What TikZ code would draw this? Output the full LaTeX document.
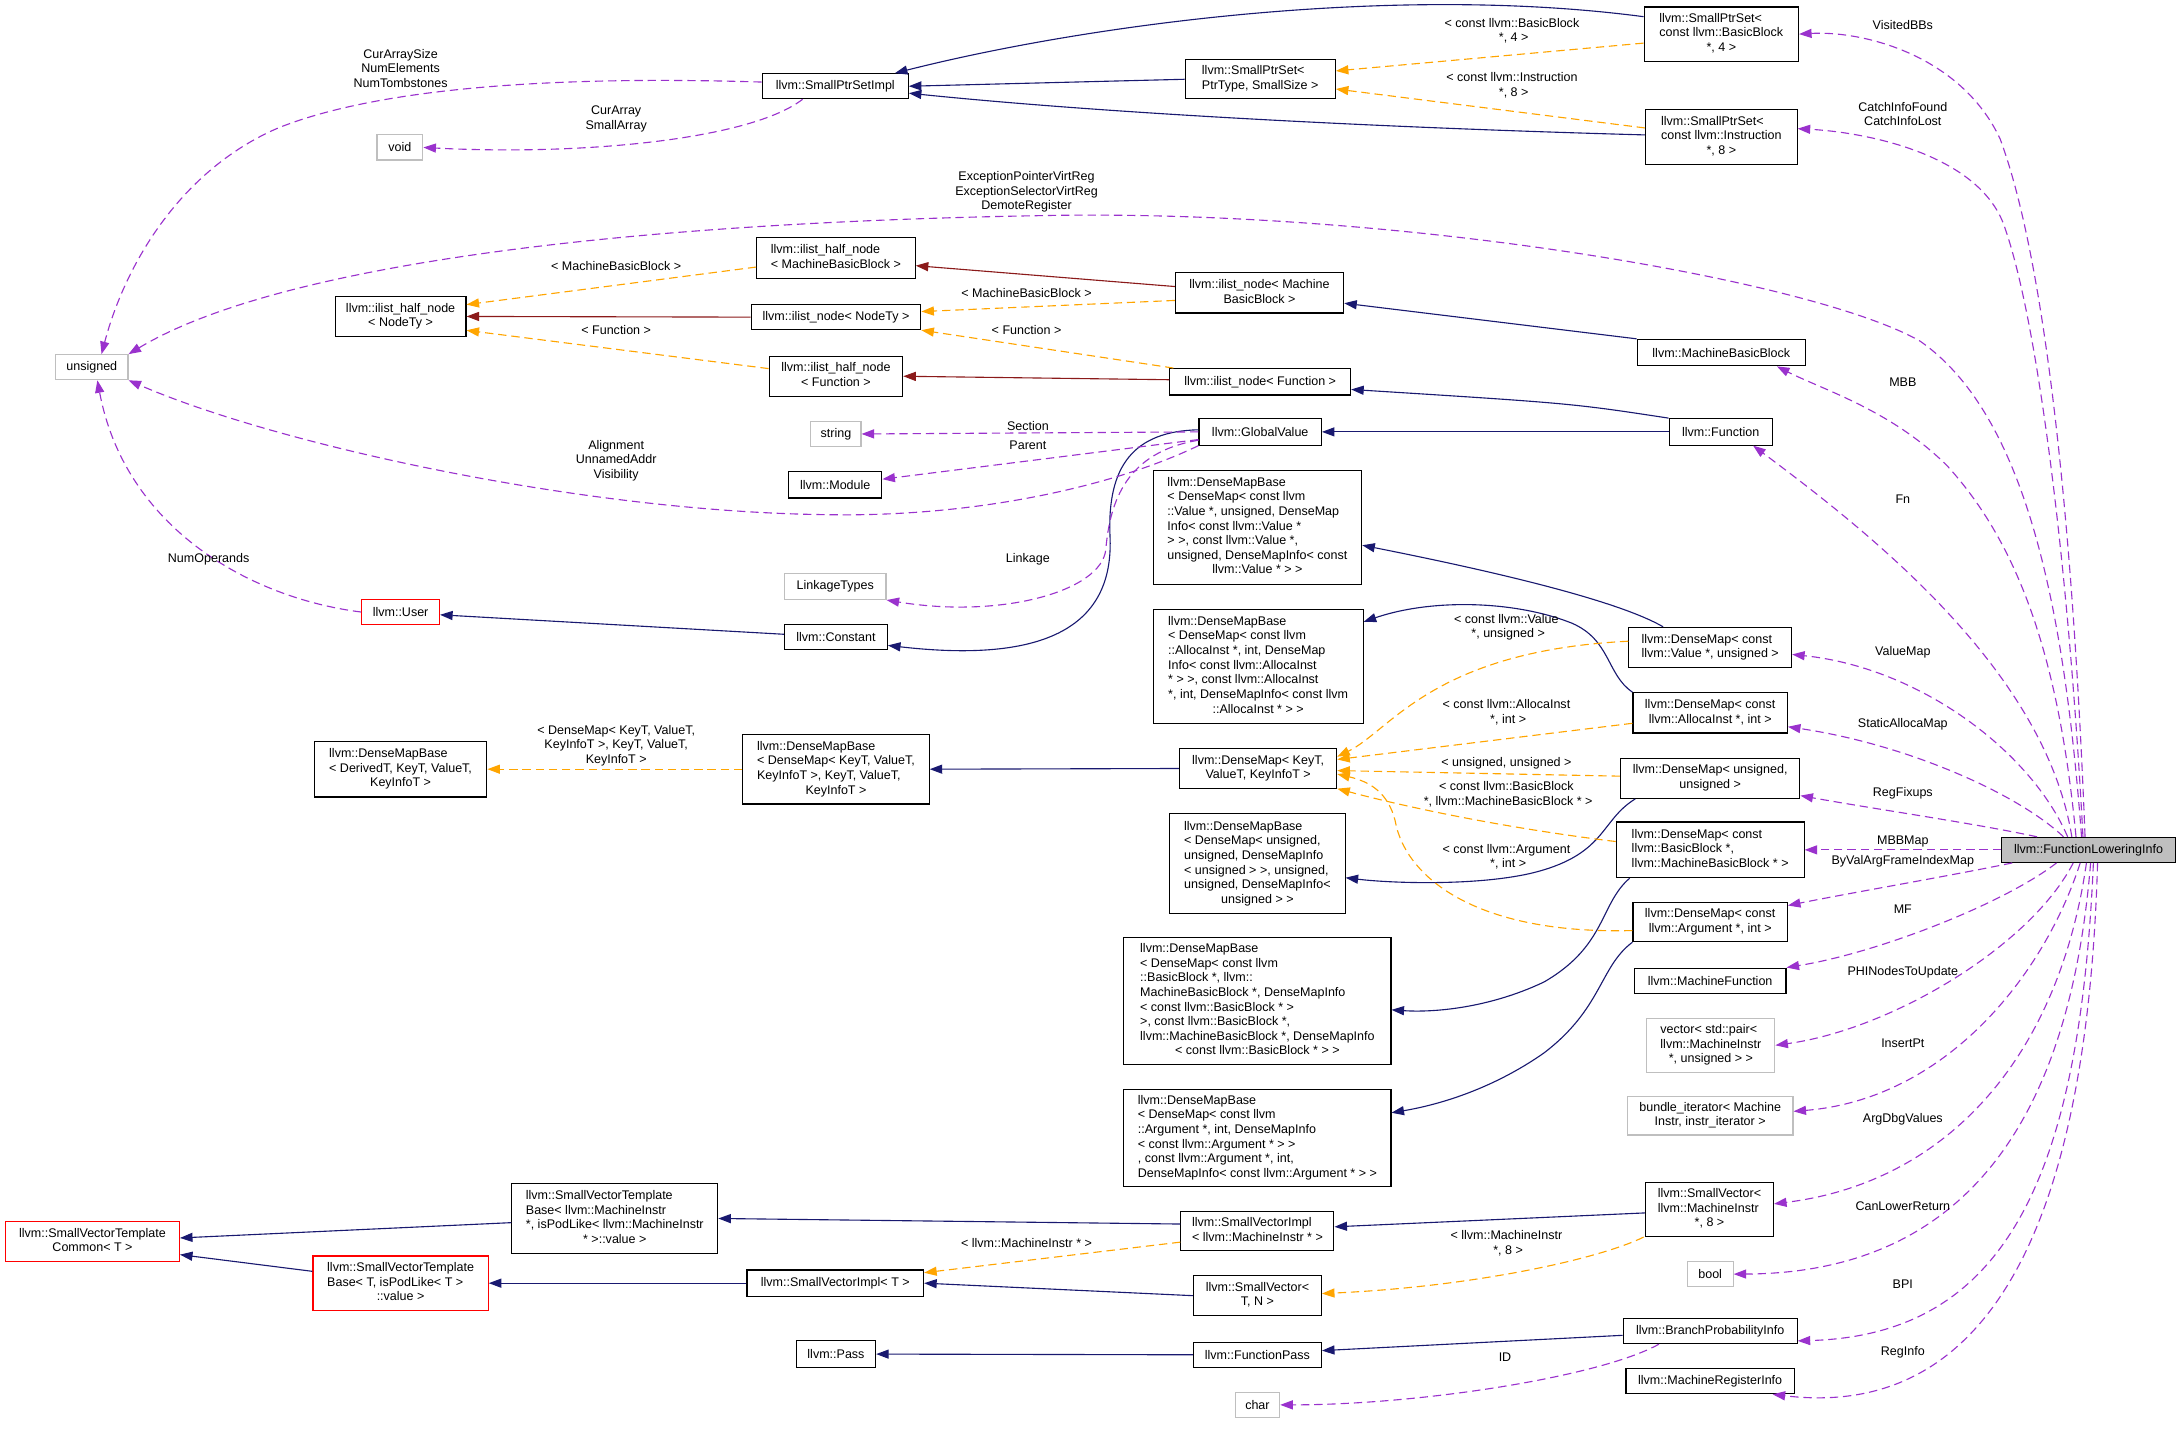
\documentclass[tikz,border=0pt]{standalone}
\usepackage{fontspec}
\setmainfont{Liberation Sans}
\usetikzlibrary{arrows.meta}
\definecolor{cnavy}{HTML}{191970}
\definecolor{cpurple}{HTML}{9A32CD}
\definecolor{corange}{HTML}{FFA500}
\definecolor{cdred}{HTML}{8B1A1A}
\definecolor{cgray}{HTML}{BFBFBF}
\newcommand{\ml}[2]{\begin{tabular}{@{}l@{}}#1\\\multicolumn{1}{@{}c@{}}{#2}\end{tabular}}
\tikzset{
  every node/.style={font=\fontsize{9}{10.5}\selectfont},
  nbox/.style={draw=black, line width=0.8pt, inner sep=0pt, fill=white},
  ngray/.style={nbox, draw=cgray},
  nred/.style={nbox, draw=red},
  nfli/.style={nbox, fill=cgray},
  tip/.style={-{Triangle[length=9pt,width=6.5pt]}},
  inh/.style={draw=cnavy, line width=0.8pt, tip},
  priv/.style={draw=cdred, line width=0.8pt, tip},
  tmpl/.style={draw=corange, line width=0.8pt, dash pattern=on 6pt off 3.5pt, tip},
  mem/.style={draw=cpurple, line width=0.8pt, dash pattern=on 6pt off 3.5pt, tip},
  elbl/.style={align=center, inner sep=0pt},
}
\begin{document}
\begin{tikzpicture}[x=1pt,y=-1pt]
\fill[white] (0,0) rectangle (1568,1027);
\useasboundingbox (0,0) rectangle (1568,1027);

% ---------- nodes ----------
\node[nbox, minimum width=105pt, minimum height=18pt] (impl) at (600.5,62) {llvm::SmallPtrSetImpl};
\node[ngray, minimum width=33pt, minimum height=18pt] (void) at (287.5,106) {void};
\node[ngray, minimum width=52pt, minimum height=18pt] (unsigned) at (66,264) {unsigned};
\node[nbox, minimum width=108pt, minimum height=28pt] (ptrtype) at (906,57) {\ml{llvm::SmallPtrSet<}{PtrType, SmallSize >}};
\node[nbox, minimum width=111pt, minimum height=39pt] (bb4) at (1237.5,24.5) {\ml{llvm::SmallPtrSet<\\const llvm::BasicBlock}{*, 4 >}};
\node[nbox, minimum width=109pt, minimum height=39pt] (instr8) at (1237.5,98.5) {\ml{llvm::SmallPtrSet<\\const llvm::Instruction}{*, 8 >}};
\node[nbox, minimum width=114pt, minimum height=29pt] (ihnMBB) at (601,185.5) {\ml{llvm::ilist\_half\_node}{< MachineBasicBlock >}};
\node[nbox, minimum width=94pt, minimum height=29pt] (ihnNodeTy) at (288,227.5) {\ml{llvm::ilist\_half\_node}{< NodeTy >}};
\node[nbox, minimum width=122pt, minimum height=18pt] (inNodeTy) at (601,228) {llvm::ilist\_node< NodeTy >};
\node[nbox, minimum width=121pt, minimum height=29pt] (inMBB) at (905.5,210.5) {\ml{llvm::ilist\_node< Machine}{BasicBlock >}};
\node[nbox, minimum width=96pt, minimum height=29pt] (ihnFunc) at (601,270.5) {\ml{llvm::ilist\_half\_node}{< Function >}};
\node[nbox, minimum width=130pt, minimum height=19pt] (inFunc) at (906,274.5) {llvm::ilist\_node< Function >};
\node[nbox, minimum width=121pt, minimum height=19pt] (mbb) at (1237.5,253.5) {llvm::MachineBasicBlock};
\node[nbox, minimum width=74pt, minimum height=19pt] (function) at (1237,310.5) {llvm::Function};
\node[nbox, minimum width=88pt, minimum height=19pt] (globalvalue) at (906,310.5) {llvm::GlobalValue};
\node[ngray, minimum width=36pt, minimum height=18pt] (string) at (601,312) {string};
\node[nbox, minimum width=67pt, minimum height=19pt] (module) at (600.5,348.5) {llvm::Module};
\node[ngray, minimum width=73pt, minimum height=19pt] (linkage) at (600.5,421.5) {LinkageTypes};
\node[nred, minimum width=56pt, minimum height=18pt] (user) at (288,440) {llvm::User};
\node[nbox, minimum width=74pt, minimum height=18pt] (constant) at (601,458) {llvm::Constant};
\node[nbox, minimum width=150pt, minimum height=82pt] (dmbValue) at (904,379) {\ml{llvm::DenseMapBase\\< DenseMap< const llvm\\::Value *, unsigned, DenseMap\\Info< const llvm::Value *\\> >, const llvm::Value *,\\unsigned, DenseMapInfo< const}{llvm::Value * > >}};
\node[nbox, minimum width=151pt, minimum height=82pt] (dmbAlloca) at (904.5,479) {\ml{llvm::DenseMapBase\\< DenseMap< const llvm\\::AllocaInst *, int, DenseMap\\Info< const llvm::AllocaInst\\{}* > >, const llvm::AllocaInst\\{}*, int, DenseMapInfo< const llvm}{::AllocaInst * > >}};
\node[nbox, minimum width=124pt, minimum height=40pt] (dmbDerived) at (288,553) {\ml{llvm::DenseMapBase\\< DerivedT, KeyT, ValueT,}{KeyInfoT >}};
\node[nbox, minimum width=134pt, minimum height=50pt] (dmbKeyT) at (601,553) {\ml{llvm::DenseMapBase\\< DenseMap< KeyT, ValueT,\\KeyInfoT >, KeyT, ValueT,}{KeyInfoT >}};
\node[nbox, minimum width=113pt, minimum height=29pt] (dmKeyT) at (904.5,552.5) {\ml{llvm::DenseMap< KeyT,}{ValueT, KeyInfoT >}};
\node[nbox, minimum width=126pt, minimum height=72pt] (dmbUnsigned) at (904,621) {\ml{llvm::DenseMapBase\\< DenseMap< unsigned,\\unsigned, DenseMapInfo\\< unsigned > >, unsigned,\\unsigned, DenseMapInfo<}{unsigned > >}};
\node[nbox, minimum width=117pt, minimum height=29pt] (dmValue) at (1229.5,465.5) {\ml{llvm::DenseMap< const}{llvm::Value *, unsigned >}};
\node[nbox, minimum width=111pt, minimum height=29pt] (dmAlloca) at (1229.5,512.5) {\ml{llvm::DenseMap< const}{llvm::AllocaInst *, int >}};
\node[nbox, minimum width=129pt, minimum height=29pt] (dmUU) at (1229.5,559.5) {\ml{llvm::DenseMap< unsigned,}{unsigned >}};
\node[nbox, minimum width=135pt, minimum height=40pt] (dmBB) at (1229.5,611) {\ml{llvm::DenseMap< const\\llvm::BasicBlock *,}{llvm::MachineBasicBlock * >}};
\node[nbox, minimum width=111pt, minimum height=28pt] (dmArg) at (1229.5,663) {\ml{llvm::DenseMap< const}{llvm::Argument *, int >}};
\node[nbox, minimum width=192pt, minimum height=91pt] (dmbBB) at (904,719.5) {\ml{llvm::DenseMapBase\\< DenseMap< const llvm\\::BasicBlock *, llvm::\\MachineBasicBlock *, DenseMapInfo\\< const llvm::BasicBlock * >\\>, const llvm::BasicBlock *,\\llvm::MachineBasicBlock *, DenseMapInfo}{< const llvm::BasicBlock * > >}};
\node[nbox, minimum width=192pt, minimum height=70pt] (dmbArg) at (904,818) {\ml{llvm::DenseMapBase\\< DenseMap< const llvm\\::Argument *, int, DenseMapInfo\\< const llvm::Argument * > >\\, const llvm::Argument *, int,}{DenseMapInfo< const llvm::Argument * > >}};
\node[nbox, minimum width=109pt, minimum height=18pt] (mf) at (1229.5,705) {llvm::MachineFunction};
\node[ngray, minimum width=92pt, minimum height=39pt] (vector) at (1230,751.5) {\ml{vector< std::pair<\\llvm::MachineInstr}{*, unsigned > >}};
\node[ngray, minimum width=119pt, minimum height=28pt] (bundle) at (1229.5,802) {\ml{bundle\_iterator< Machine}{Instr, instr\_iterator >}};
\node[nred, minimum width=125pt, minimum height=29pt] (svtCommon) at (66.5,892.5) {\ml{llvm::SmallVectorTemplate}{Common< T >}};
\node[nbox, minimum width=148pt, minimum height=50pt] (svtBaseMI) at (442,876) {\ml{llvm::SmallVectorTemplate\\Base< llvm::MachineInstr\\{}*, isPodLike< llvm::MachineInstr}{* >::value >}};
\node[nred, minimum width=126pt, minimum height=39pt] (svtBaseT) at (288,922.5) {\ml{llvm::SmallVectorTemplate\\Base< T, isPodLike< T >}{::value >}};
\node[nbox, minimum width=110pt, minimum height=28pt] (sviMI) at (904,885) {\ml{llvm::SmallVectorImpl}{< llvm::MachineInstr * >}};
\node[nbox, minimum width=92pt, minimum height=39pt] (svMI8) at (1229,869.5) {\ml{llvm::SmallVector<\\llvm::MachineInstr}{*, 8 >}};
\node[ngray, minimum width=33pt, minimum height=18pt] (bool) at (1229.5,916) {bool};
\node[nbox, minimum width=127pt, minimum height=19pt] (sviT) at (600.5,922.5) {llvm::SmallVectorImpl< T >};
\node[nbox, minimum width=92pt, minimum height=29pt] (svTN) at (904,931.5) {\ml{llvm::SmallVector<}{T, N >}};
\node[nbox, minimum width=57pt, minimum height=19pt] (pass) at (601,973.5) {llvm::Pass};
\node[nbox, minimum width=92pt, minimum height=18pt] (functionpass) at (904,974) {llvm::FunctionPass};
\node[nbox, minimum width=125pt, minimum height=18pt] (bpi) at (1229.5,957) {llvm::BranchProbabilityInfo};
\node[nbox, minimum width=121pt, minimum height=18pt] (mri) at (1229.5,993) {llvm::MachineRegisterInfo};
\node[ngray, minimum width=32pt, minimum height=18pt] (charnode) at (904,1010) {char};
\node[nfli, minimum width=125pt, minimum height=18pt] (fli) at (1501.5,611) {llvm::FunctionLoweringInfo};

% ---------- inheritance (navy) ----------
\draw[inh] (ptrtype.west) -- (impl.east);
\draw[inh] ([yshift=12.5pt]bb4.west) .. controls (1000,-12) and (780,18) .. ([xshift=-10pt]impl.north east);
\draw[inh] ([yshift=1.5pt]instr8.west) .. controls (1000,92) and (800,82) .. ([yshift=-5pt]impl.east);
\draw[inh] (mbb.north west) -- ([yshift=-7.5pt]inMBB.east);
\draw[inh] (function.north west) .. controls (1130,290) .. ([yshift=-5.5pt]inFunc.east);
\draw[inh] (function.west) -- (globalvalue.east);
\draw[inh] ([yshift=1.5pt]globalvalue.west) .. controls (815,310) and (796,335) .. (798,385) .. controls (801,445) and (760,478) .. ([yshift=-6pt]constant.east);
\draw[inh] ([yshift=2pt]constant.west) -- ([yshift=-2pt]user.east);
\draw[inh] (dmKeyT.west) -- (dmbKeyT.east);
\draw[inh] ([xshift=25pt]dmValue.north west) .. controls (1160,430) and (1060,408) .. ([yshift=-13pt]dmbValue.east);
\draw[inh] (dmAlloca.north west) .. controls (1155,485) and (1158,460) .. (1130,448) .. controls (1090,432) and (1030,430) .. ([yshift=32pt]dmbAlloca.east);
\draw[inh] ([xshift=11pt]dmUU.south west) .. controls (1150,590) and (1155,615) .. (1100,628) .. controls (1060,637) and (1000,635) .. ([yshift=-10pt]dmbUnsigned.east);
\draw[inh] ([xshift=10pt]dmBB.south west) .. controls (1150,650) and (1155,680) .. (1110,706) .. controls (1070,725) and (1030,728) .. ([yshift=-6.5pt]dmbBB.east);
\draw[inh] (dmArg.south west) .. controls (1150,695) and (1152,725) .. (1110,757) .. controls (1070,785) and (1030,795) .. ([yshift=18pt]dmbArg.east);
\draw[inh] ([yshift=-2.5pt]svMI8.west) -- ([yshift=3pt]sviMI.east);
\draw[inh] ([yshift=5pt]sviMI.west) -- (svtBaseMI.east);
\draw[inh] (svTN.west) -- (sviT.east);
\draw[inh] (sviT.west) -- (svtBaseT.east);
\draw[inh] ([yshift=-3pt]svtBaseMI.west) -- ([yshift=2.5pt]svtCommon.east);
\draw[inh] ([yshift=8.5pt]svtBaseT.west) -- ([yshift=-9.5pt]svtCommon.east);
\draw[inh] (functionpass.west) -- (pass.east);
\draw[inh] ([yshift=-3pt]bpi.west) -- ([yshift=3pt]functionpass.east);

% ---------- private inheritance (dark red) ----------
\draw[priv] ([yshift=4.5pt]inMBB.west) -- ([yshift=-5.5pt]ihnMBB.east);
\draw[priv] (inNodeTy.west) -- (ihnNodeTy.east);
\draw[priv] ([yshift=1.5pt]inFunc.west) -- (ihnFunc.east);

% ---------- template instances (orange) ----------
\draw[tmpl] ([yshift=-5.5pt]inMBB.west) -- ([yshift=4pt]inNodeTy.east);
\draw[tmpl] ([xshift=3pt]inFunc.north west) -- (inNodeTy.south east);
\draw[tmpl] ([yshift=-6.5pt]ihnMBB.west) -- ([yshift=8.5pt]ihnNodeTy.east);
\draw[tmpl] ([yshift=5.5pt]ihnFunc.west) -- ([yshift=-10pt]ihnNodeTy.east);
\draw[tmpl] ([yshift=-6.5pt]bb4.west) -- ([yshift=6pt]ptrtype.east);
\draw[tmpl] ([yshift=6.5pt]instr8.west) -- ([yshift=-7pt]ptrtype.east);
\draw[tmpl] (dmbKeyT.west) -- (dmbDerived.east);
\draw[tmpl] ([yshift=4.5pt]dmValue.west) .. controls (1030,468) and (1000,525) .. ([yshift=8.5pt]dmKeyT.east);
\draw[tmpl] ([yshift=-7.5pt]dmAlloca.west) -- ([yshift=6.5pt]dmKeyT.east);
\draw[tmpl] ([yshift=1.5pt]dmUU.west) -- ([yshift=-1.5pt]dmKeyT.east);
\draw[tmpl] ([yshift=6pt]dmBB.west) .. controls (1080,595) and (1010,580) .. ([yshift=-14.5pt]dmKeyT.east);
\draw[tmpl] ([yshift=-6pt]dmArg.west) .. controls (1060,672) and (1010,630) .. (1003,590) .. controls (998,570) and (985,562) .. ([yshift=-4pt]dmKeyT.east);
\draw[tmpl] ([yshift=-8pt]sviMI.west) -- ([yshift=7.5pt]sviT.east);
\draw[tmpl] ([xshift=-1pt]svMI8.south west) .. controls (1150,905) and (1060,925) .. ([yshift=1.5pt]svTN.east);

% ---------- members (purple) ----------
\draw[mem] ([yshift=3pt]impl.west) .. controls (420,55) and (280,60) .. (200,92) .. controls (130,122) and (90,190) .. ([xshift=7pt]unsigned.north);
\draw[mem] ([xshift=-23.5pt]impl.south) .. controls (540,100) and (420,112) .. (void.east);
\draw[mem] ([xshift=-5pt]fli.north) .. controls (1485,450) and (1460,300) .. (1380,245) .. controls (1300,200) and (1000,150) .. (750,155) .. controls (450,160) and (200,190) .. (unsigned.north east);
\draw[mem] ([xshift=-2.5pt]fli.north) .. controls (1492,420) and (1475,200) .. (1438,100) .. controls (1410,40) and (1340,22) .. (bb4.east);
\draw[mem] ([xshift=-4pt]fli.north) .. controls (1488,420) and (1466,230) .. (1440,160) .. controls (1420,110) and (1340,95) .. ([yshift=6pt]instr8.east);
\draw[mem] ([xshift=-9pt]fli.north) .. controls (1480,470) and (1450,390) .. (1400,335) .. controls (1360,295) and (1310,280) .. ([xshift=40pt]mbb.south);
\draw[mem] ([xshift=-12pt]fli.north) .. controls (1470,480) and (1340,380) .. ([xshift=-14pt]function.south east);
\draw[mem] ([xshift=-15pt]fli.north) .. controls (1460,540) and (1380,480) .. ([yshift=-5pt]dmValue.east);
\draw[mem] ([xshift=-18pt]fli.north) .. controls (1450,570) and (1370,535) .. ([yshift=-10pt]dmAlloca.east);
\draw[mem] ([xshift=-37pt]fli.north) .. controls (1420,592) and (1350,582) .. ([yshift=-12.5pt]dmUU.east);
\draw[mem] (fli.west) -- (dmBB.east);
\draw[mem] ([xshift=8pt]fli.south west) .. controls (1400,630) and (1330,642) .. ([yshift=12pt]dmArg.east);
\draw[mem] ([xshift=-23pt]fli.south) .. controls (1440,650) and (1350,685) .. (mf.north east);
\draw[mem] ([xshift=-11pt]fli.south) .. controls (1460,680) and (1360,740) .. (vector.east);
\draw[mem] ([xshift=-6pt]fli.south) .. controls (1470,700) and (1400,790) .. ([yshift=3pt]bundle.east);
\draw[mem] ([xshift=-1.5pt]fli.south) .. controls (1480,760) and (1400,850) .. ([yshift=4pt]svMI8.east);
\draw[mem] ([xshift=1.5pt]fli.south) .. controls (1490,780) and (1430,915) .. (bool.east);
\draw[mem] ([xshift=3.5pt]fli.south) .. controls (1495,850) and (1440,960) .. ([yshift=-7pt]bpi.east);
\draw[mem] ([xshift=6.5pt]fli.south) .. controls (1500,900) and (1420,1020) .. ([xshift=-16pt]mri.south east);
\draw[mem] (globalvalue.west) -- (string.east);
\draw[mem] ([yshift=-5.5pt]globalvalue.west) -- ([yshift=4pt]module.east);
\draw[mem] (globalvalue.south west) .. controls (800,350) and (700,372) .. (594,370) .. controls (420,368) and (200,320) .. (unsigned.south east);
\draw[mem] ([yshift=-6pt]globalvalue.west) .. controls (810,325) and (798,360) .. (795,395) .. controls (792,425) and (720,445) .. (linkage.south east);
\draw[mem] (user.west) .. controls (180,430) and (90,380) .. ([xshift=4pt]unsigned.south);
\draw[mem] ([xshift=26pt]bpi.south west) .. controls (1150,990) and (1020,1010) .. (charnode.east);

% ---------- edge labels ----------
\node[elbl] (l1) at (288,49) {CurArraySize\\NumElements\\NumTombstones};
\node[elbl] (l2) at (443,85.5) {CurArray\\SmallArray};
\node[elbl] (l3) at (1087,22) {< const llvm::BasicBlock\\{} *, 4 >};
\node[elbl] (l4) at (1087,61.5) {< const llvm::Instruction\\{} *, 8 >};
\node[elbl] (l5) at (1368,18) {VisitedBBs};
\node[elbl] (l6) at (1368,82) {CatchInfoFound\\CatchInfoLost};
\node[elbl] (l7) at (738,138) {ExceptionPointerVirtReg\\ExceptionSelectorVirtReg\\DemoteRegister};
\node[elbl] (l8) at (443,191) {< MachineBasicBlock >};
\node[elbl] (l9) at (738,211) {< MachineBasicBlock >};
\node[elbl] (l10) at (443,237) {< Function >};
\node[elbl] (l11) at (738,237) {< Function >};
\node[elbl] (l12) at (1368,275) {MBB};
\node[elbl] (l13) at (739,306) {Section};
\node[elbl] (l14) at (739,320) {Parent};
\node[elbl] (l15) at (443,331) {Alignment\\UnnamedAddr\\Visibility};
\node[elbl] (l16) at (1368,359) {Fn};
\node[elbl] (l17) at (739,402) {Linkage};
\node[elbl] (l18) at (150,402) {NumOperands};
\node[elbl] (l19) at (1083,451) {< const llvm::Value\\{} *, unsigned >};
\node[elbl] (l20) at (1368,469) {ValueMap};
\node[elbl] (l21) at (1083,512) {< const llvm::AllocaInst\\{} *, int >};
\node[elbl] (l22) at (1368,521) {StaticAllocaMap};
\node[elbl] (l23) at (443,536) {< DenseMap< KeyT, ValueT,\\KeyInfoT >, KeyT, ValueT,\\KeyInfoT >};
\node[elbl] (l24) at (1083,549) {< unsigned, unsigned >};
\node[elbl] (l25) at (1368,570) {RegFixups};
\node[elbl] (l26) at (1083,571) {< const llvm::BasicBlock\\{} *, llvm::MachineBasicBlock * >};
\node[elbl] (l27) at (1368,605) {MBBMap};
\node[elbl] (l28) at (1083,616) {< const llvm::Argument\\{} *, int >};
\node[elbl] (l29) at (1368,619) {ByValArgFrameIndexMap};
\node[elbl] (l30) at (1368,654) {MF};
\node[elbl] (l31) at (1368,699) {PHINodesToUpdate};
\node[elbl] (l32) at (1368,750) {InsertPt};
\node[elbl] (l33) at (1368,805) {ArgDbgValues};
\node[elbl] (l34) at (1368,867) {CanLowerReturn};
\node[elbl] (l35) at (1083,894) {< llvm::MachineInstr\\{} *, 8 >};
\node[elbl] (l36) at (738,894) {< llvm::MachineInstr * >};
\node[elbl] (l37) at (1368,923) {BPI};
\node[elbl] (l38) at (1368,972) {RegInfo};
\node[elbl] (l39) at (1082,976) {ID};
\end{tikzpicture}
\end{document}
